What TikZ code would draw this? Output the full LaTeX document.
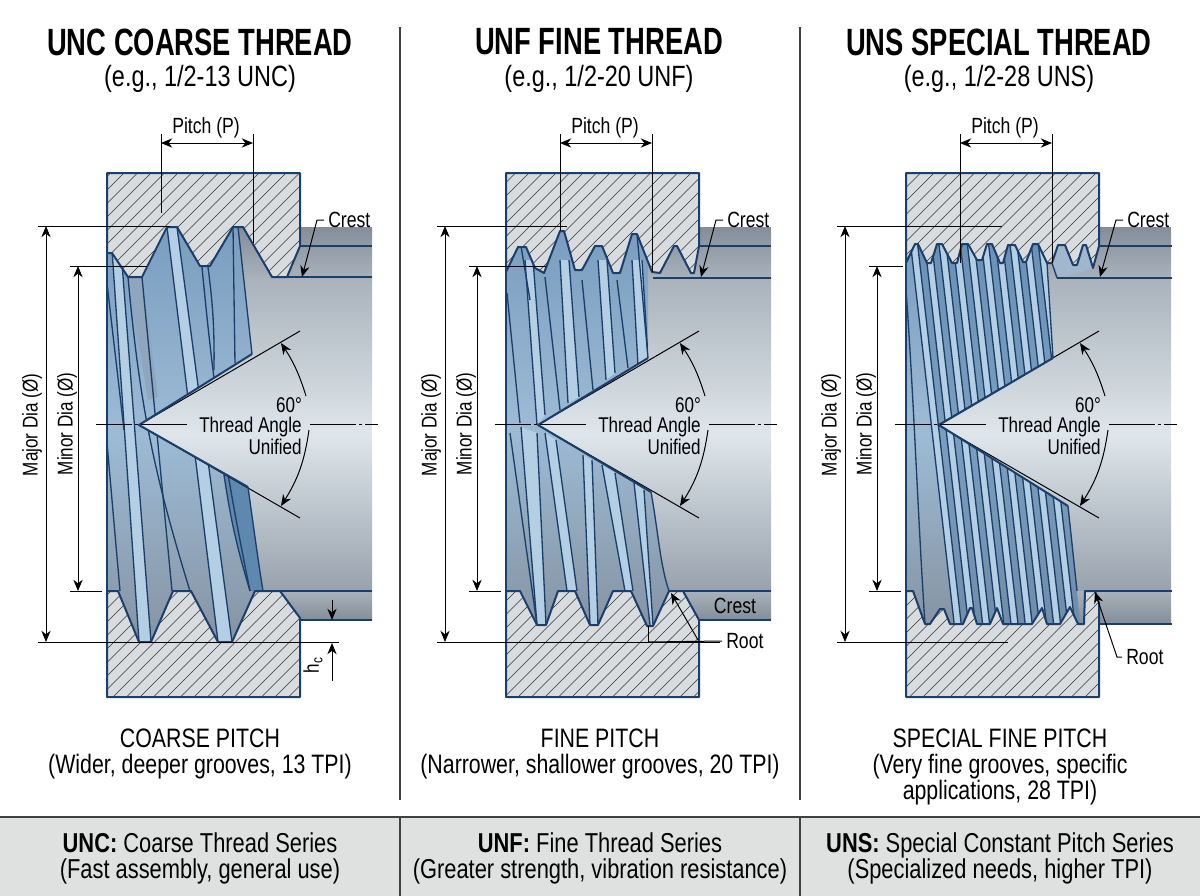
\documentclass[tikz,border=0pt]{standalone}
\usepackage{fontspec}
\setmainfont[FakeStretch=0.8]{Liberation Sans}
\newfontfamily\titlefamily[FakeStretch=0.72]{Liberation Sans}
\usetikzlibrary{arrows.meta,positioning,calc}

\definecolor{navy}{HTML}{1B3F6B}
\definecolor{blockgray}{HTML}{D9DCDE}
\definecolor{lightblue}{HTML}{B4CEE4}
\definecolor{darkblue}{HTML}{5F88AE}
\definecolor{midband}{HTML}{8FA6BC}
\definecolor{footgray}{HTML}{DFE1E1}
\definecolor{threadtop}{HTML}{7A9DBF}
\definecolor{threadmid}{HTML}{9DBBD5}
\definecolor{threadbot}{HTML}{8694A3}
\definecolor{shafttop}{HTML}{A9B1BB}
\definecolor{shaftmid}{HTML}{DEE6EB}
\definecolor{shaftbot}{HTML}{98A2AD}
\definecolor{walldark}{HTML}{838E9A}
\definecolor{walllight}{HTML}{A9B2BB}

% thread outlines in pixels of the sheet
\newcommand{\upperA}{(300,246)--(300,173)--(107,173)--(107,253)--(112,253)--(128,277)--(142,277)--(167,227)--(177,227)--(200,266)--(210,266)--(233,227)--(243,227)--(272,277)--(287,277)--cycle}
\newcommand{\lowerA}{(107,591)--(118,591)--(139,642)--(151,642)--(173,591)--(191,591)--(218,642)--(232,642)--(255,591)--(280,591)--(300,618)--(300,697)--(107,697)--cycle}
\newcommand{\threadA}{(107,253)--(112,253)--(128,277)--(142,277)--(167,227)--(177,227)--(200,266)--(210,266)--(233,227)--(238,227)--(252,354)--(139,425)--(248,487) .. controls (254,530) and (258,560) .. (263,591)--(255,591)--(232,642)--(218,642)--(191,591)--(173,591)--(151,642)--(139,642)--(118,591)--(107,591)--cycle}

\newcommand{\upperB}{(699,246)--(699,173)--(506,173)--(506,272)--(518,247)--(526,247)--(535,268)--(544,273)--(560,231)--(564,231)--(575,270)--(582,270)--(595,246)--(602,246)--(613,273)--(620,273)--(632,234)--(637,234)--(652,272)--(660,273)--(674,246)--(677,246)--(691,273)--(694,273)--cycle}
\newcommand{\lowerB}{(506,591)--(520,591)--(537,625)--(546,625)--(558,591)--(575,591)--(590,625)--(598,625)--(613,591)--(631,591)--(647,626)--(653,626)--(669,591)--(683,591)--(699,620)--(699,697)--(506,697)--cycle}
\newcommand{\threadB}{(506,272)--(518,247)--(526,247)--(535,268)--(544,273)--(560,231)--(564,231)--(575,270)--(582,270)--(595,246)--(602,246)--(613,273)--(620,273)--(632,234)--(637,234)--(648,266)--(648,358)--(538,425)--(651,492) .. controls (658,530) and (660,565) .. (669,591)--(653,626)--(647,626)--(631,591)--(613,591)--(598,625)--(590,625)--(575,591)--(558,591)--(546,625)--(537,625)--(520,591)--(506,591)--cycle}

\newcommand{\upperC}{(1099,246)--(1099,173)--(906,173)--(906,263)--(915,244)--(918,244)--(927,263)--(931,263)--(937,244)--(942,244)--(952,263)--(957,263)--(962,244)--(968,244)--(977,260)--(982,260)--(987,244)--(992,244)--(1000,263)--(1003,263)--(1008,245)--(1015,245)--(1023,262)--(1026,262)--(1033,244)--(1038,244)--(1047,263)--(1052,263)--(1058,245)--(1065,245)--(1073,265)--(1077,265)--(1083,245)--(1086,245)--(1093,268)--cycle}
\newcommand{\lowerC}{(906,591)--(913,591)--(925,624)--(930,624)--(940,609)--(944,609)--(950,624)--(963,624)--(970,608)--(972,608)--(977,624)--(990,624)--(997,608)--(1003,624)--(1032,624)--(1042,608)--(1047,624)--(1060,624)--(1070,607)--(1078,624)--(1084,624)--(1085,591)--(1095,591)--(1099,603)--(1099,697)--(906,697)--cycle}
\newcommand{\threadC}{(906,263)--(915,244)--(918,244)--(927,263)--(931,263)--(937,244)--(942,244)--(952,263)--(957,263)--(962,244)--(968,244)--(977,260)--(982,260)--(987,244)--(992,244)--(1000,263)--(1003,263)--(1008,245)--(1015,245)--(1023,262)--(1026,262)--(1033,244)--(1038,244)--(1047,263)--(1050,317)--(1053,358)--(939,425)--(1068,506)--(1077,591)--(1080,624)--(1078,624)--(1070,607)--(1060,624)--(1047,624)--(1042,608)--(1032,624)--(1003,624)--(997,608)--(990,624)--(977,624)--(972,608)--(970,608)--(963,624)--(950,624)--(944,609)--(940,609)--(930,624)--(925,624)--(913,591)--(906,591)--cycle}

% gray block with its hatching
\newcommand{\hatchblock}[1]{%
  \fill[blockfill] #1;
  \begin{scope}
    \clip #1;
    \foreach \c in {270,283.5,...,1900} \draw[hatchline] (\c-100,100) -- (\c-800,800);
  \end{scope}
  \draw[outline] #1;
}

\begin{document}
\begin{tikzpicture}[
    x=0.75pt, y=-0.75pt,
    outline/.style={draw=navy, line width=1.5pt, line join=round},
    blockfill/.style={fill=blockgray},
    hatchline/.style={draw=black!80, line width=0.5pt},
    threadfill/.style={top color=threadtop, bottom color=threadbot, middle color=threadmid},
    bandfill/.style={fill=lightblue},
    deepfill/.style={fill=darkblue},
    helix/.style={draw=navy, line width=1pt},
    dimline/.style={draw=black, line width=0.75pt},
    dimarrow/.style={draw=black, line width=0.75pt, >={Stealth[length=8.5pt,width=7pt]}},
    centerline/.style={draw=black, line width=0.6pt, dash pattern=on 34.5pt off 2.5pt on 2pt off 2.5pt},
    titletext/.style={font=\titlefamily\fontsize{28.5}{30}\selectfont\bfseries, inner sep=0pt},
    subtext/.style={font=\fontsize{22}{24}\selectfont, inner sep=0pt},
    dimtext/.style={font=\fontsize{16}{18}\selectfont, inner sep=0pt},
    leadtext/.style={font=\fontsize{16.5}{18}\selectfont, inner sep=3pt},
    captiontext/.style={font=\fontsize{20}{19.5}\selectfont, align=center, inner sep=0pt},
    foottext/.style={font=\fontsize{20.5}{19.5}\selectfont, align=center, inner sep=0pt}
]
\useasboundingbox (0,0) rectangle (1200,896);

% Footer band and dividers
\fill[footgray] (0,817) rectangle (1200,896);
\coordinate (footL) at (0,817);
\coordinate (footR) at (1200,817);
\draw[draw=black!75, line width=1.1pt] (footL) -- (footR);
\foreach \xd/\tag in {400/one, 800/two} {
  \coordinate (divT\tag) at (\xd,27);
  \coordinate (divB\tag) at (\xd,800);
  \coordinate (footT\tag) at (\xd,817);
  \coordinate (footB\tag) at (\xd,896);
  \draw[draw=black!75, line width=1pt] (divT\tag) -- (divB\tag);
  \draw[draw=black!75, line width=1pt] (footT\tag) -- (footB\tag);
}

% Shaft of each panel
\foreach \off in {0,399,799} {
  \begin{scope}[shift={(\off,0)}]
    \shade[top color=shafttop, bottom color=shaftbot, middle color=shaftmid] (107,277) rectangle (372,591);
    \shade[top color=walldark, bottom color=walllight] (225,227) rectangle (372,278);
    \shade[top color=walllight, bottom color=walldark] (250,591) rectangle (372,\ifnum\off=799 624\else 620\fi);
  \end{scope}
}

% Thread, coarse
\shade[threadfill] \threadA;
\begin{scope}
  \clip \threadA;
  \fill[midband] (128,277) -- (142,277) -- (158,397) -- (148,400) -- cycle;
  \foreach \xa/\ya/\xb/\yb/\xc/\yc/\xd/\yd in {112/250/121/250/151/642/139/642, 167/227/177/227/232/642/218/642} {
    \fill[bandfill] (\xa,\ya) -- (\xb,\yb) -- (\xc,\yc) -- (\xd,\yd) -- cycle;
    \draw[helix] (\xa,\ya) -- (\xd,\yd) (\xb,\yb) -- (\xc,\yc);
  }
  \fill[deepfill] (224,475) .. controls (232,520) and (240,560) .. (250,591) -- (263,591) .. controls (258,560) and (254,530) .. (248,487) -- cycle;
  \foreach \xa/\ya/\xb/\yb/\b in {128/277/190/591/-6, 142/277/172/591/0, 107/443/120/591/0, 102/240/124/430/0, 202/267/250/591/-3, 208/267/214/370/4, 233/227/235/363/0, 224/475/250/591/-4} {
    \draw[helix] (\xa,\ya) to[bend left=\b] (\xb,\yb);
  }
\end{scope}

% Thread, fine
\shade[threadfill] \threadB;
\begin{scope}
  \clip \threadB;
  \foreach \xa/\ya/\xb/\yb/\xc/\yc/\xd/\yd in {525/260/533/260/545/415/537/425, 560/260/569/260/579/397/568/403, 598/260/607/260/615/373/606/380, 632/260/642/260/648/358/638/365, 521/427/537/433/546/625/537/625, 583/455/592/460/598/625/590/625, 634/483/644/490/653/625/650/625, 602/465/615/473/633/591/625/591, 545/433/556/440/577/591/567/591} {
    \fill[bandfill] (\xa,\ya) -- (\xb,\yb) -- (\xc,\yc) -- (\xd,\yd) -- cycle;
    \draw[helix] (\xa,\ya) -- (\xd,\yd) (\xb,\yb) -- (\xc,\yc);
  }
  \foreach \xa/\ya/\xb/\yb/\b in {507/293/520/423/0, 510/433/537/625/0, 545/277/560/410/0, 582/280/593/390/0, 617/280/628/368/0, 520/240/530/300/0} {
    \draw[helix] (\xa,\ya) to[bend left=\b] (\xb,\yb);
  }
\end{scope}

% Thread, special
\shade[threadfill] \threadC;
\begin{scope}
  \clip \threadC;
  \foreach \k in {0,...,9} {
    \coordinate (helixa\k) at ({912+14.2*\k-1.9},240);
    \coordinate (helixb\k) at ({912+14.2*\k+7-1.9},240);
    \coordinate (helixe\k) at ({912+14.2*\k+14.2-1.9},240);
    \coordinate (helixc\k) at ({912+14.2*\k+7+42.9},630);
    \coordinate (helixd\k) at ({912+14.2*\k+42.9},630);
    \coordinate (helixf\k) at ({912+14.2*\k+14.2+42.9},630);
    \fill[deepfill, opacity=0.55] (helixb\k) -- (helixe\k) -- (helixf\k) -- (helixc\k) -- cycle;
    \fill[bandfill] (helixa\k) -- (helixb\k) -- (helixc\k) -- (helixd\k) -- cycle;
    \draw[helix] (helixa\k) -- (helixd\k) (helixb\k) -- (helixc\k);
  }
  \draw[helix] (906,290) .. controls (914,400) and (918,520) .. (925,624);
\end{scope}
\fill[fill=darkblue!60] (1052,263)--(1058,245)--(1065,245)--(1073,265)--(1077,265)--(1083,245)--(1086,245)--(1093,268)--(1082,272)--(1060,277)--cycle;
\coordinate (toothC) at (1052,263);
\coordinate (wallC) at (1057,278);
\draw[helix] (toothC) -- (wallC);

% Thread edges, hatching and cone
\foreach \ax/\up/\low/\thr in {107/\upperA/\lowerA/\threadA, 506/\upperB/\lowerB/\threadB, 906/\upperC/\lowerC/\threadC} {
  \coordinate (edgeT\ax) at (\ax,173);
  \coordinate (edgeB\ax) at (\ax,697);
  \draw[outline] (edgeT\ax) -- (edgeB\ax);
  \coordinate (apex\ax) at ($(\ax,425)+(32,0)$);
  \coordinate (coneT\ax) at ($(\ax,331)+(193,0)$);
  \coordinate (coneB\ax) at ($(\ax,518)+(193,0)$);
  \hatchblock{\up}
  \hatchblock{\low}
  \draw[dimline] (coneT\ax) -- (apex\ax) -- (coneB\ax);
}
\draw[outline] (252,354) -- (139,425) -- (248,487);
\draw[helix] (238,227) -- (252,354) (248,487) .. controls (254,530) and (258,560) .. (263,591);
\draw[outline] (648,358) -- (538,425) -- (651,492);
\draw[helix] (637,234) -- (648,358) (651,492) .. controls (658,530) and (660,565) .. (669,591);
\draw[outline] (1053,358) -- (939,425) -- (1068,506);
\draw[helix] (1047,263) -- (1053,358) (1068,506) -- (1077,591);

% Shaft walls
\foreach \xa/\xb/\ya in {300/372/246, 272/372/277, 280/372/591, 300/372/620, 699/771/246, 653/771/278, 683/771/591, 699/771/620, 1099/1172/246, 1057/1172/278, 1095/1172/591, 1099/1172/624} {
  \coordinate (wallL\xa\ya) at (\xa,\ya);
  \coordinate (wallR\xa\ya) at (\xb,\ya);
  \draw[outline] (wallL\xa\ya) -- (wallR\xa\ya);
}

% Dimensions common to the three panels
\foreach \off/\tag/\major/\minor/\low/\pa/\pb/\crestx/\crestk in {
    0/unc/170/147/339/213/243/317/302,
    399/unf/168/147/321/231/272/317/302,
    799/uns/203/104/209/263/263/317/301} {
  \begin{scope}[shift={(\off,0)}]
    % major and minor diameters
    \coordinate (majA\tag) at (38,226);
    \coordinate (majB\tag) at (\major,226);
    \coordinate (majC\tag) at (38,642);
    \coordinate (majD\tag) at (\low,642);
    \coordinate (majT\tag) at (46,226);
    \coordinate (majE\tag) at (46,642);
    \draw[dimline] (majA\tag) -- (majB\tag);
    \draw[dimline] (majC\tag) -- (majD\tag);
    \draw[dimarrow,<->] (majT\tag) -- (majE\tag);
    \coordinate (minA\tag) at (70,266);
    \coordinate (minB\tag) at (\minor,266);
    \coordinate (minC\tag) at (70,591);
    \coordinate (minD\tag) at (102,591);
    \coordinate (minT\tag) at (78,266);
    \coordinate (minE\tag) at (78,591);
    \draw[dimline] (minA\tag) -- (minB\tag);
    \draw[dimline] (minC\tag) -- (minD\tag);
    \draw[dimarrow,<->] (minT\tag) -- (minE\tag);
    \node[dimtext, rotate=90] (majlab\tag) at (32,425) {Major Dia (Ø)};
    \node[dimtext, rotate=90] (minlab\tag) at (67,424) {Minor Dia (Ø)};
    % pitch
    \coordinate (pitA\tag) at (161,134);
    \coordinate (pitB\tag) at (161,\pa);
    \coordinate (pitC\tag) at (253,134);
    \coordinate (pitD\tag) at (253,\pb);
    \coordinate (pitL\tag) at (161,143);
    \coordinate (pitR\tag) at (253,143);
    \draw[dimline] (pitA\tag) -- (pitB\tag);
    \draw[dimline] (pitC\tag) -- (pitD\tag);
    \draw[dimarrow,<->] (pitL\tag) -- (pitR\tag);
    \node[leadtext] (pitlab\tag) at (206,128) {Pitch (P)};
    % crest leader
    \node[leadtext, anchor=west] (crest\tag) at (324,220) {Crest};
    \coordinate (bend\tag) at (\crestx,220);
    \coordinate (tip\tag) at (\crestk,277);
    \draw[dimarrow,->] (crest\tag.west) -- (bend\tag) -- (tip\tag);
    % angle and centre line
    \coordinate (cenA\tag) at (96,424);
    \coordinate (cenB\tag) at (187,424);
    \coordinate (cenC\tag) at (310,424);
    \coordinate (cenD\tag) at (378,424);
    \draw[centerline] (cenB\tag) -- (cenA\tag);
    \draw[centerline] (cenC\tag) -- (cenD\tag);
    \node[dimtext] (ang\tag) at (289,405) {60°};
    \node[dimtext, anchor=east] (angb\tag) at (302,427) {Thread Angle};
    \node[dimtext, anchor=east] (angc\tag) at (302,447) {Unified};
    \coordinate (arcA\tag) at (281,343);
    \coordinate (arcB\tag) at (306,396);
    \coordinate (arcC\tag) at (309,430);
    \coordinate (arcD\tag) at (281,506);
    \draw[dimarrow,<-] (arcA\tag) to[bend left=8] (arcB\tag);
    \draw[dimarrow,->] (arcC\tag) to[bend left=12] (arcD\tag);
  \end{scope}
}

% Clearance on the coarse panel
\coordinate (hcA) at (332,600);
\coordinate (hcB) at (332,620);
\coordinate (hcC) at (332,681);
\coordinate (hcD) at (332,643);
\draw[dimarrow,->] (hcA) -- (hcB);
\draw[dimarrow,->] (hcC) -- (hcD);
\node[dimtext, rotate=90] (hclab) at (313,665) {h\textsubscript{c}};

% Crest and root on the fine panel
\node[leadtext] (crestlow) at (735,606) {Crest};
\node[leadtext, anchor=west] (rootB) at (722,641) {Root};
\coordinate (rootline) at (648,642);
\coordinate (rootdrop) at (648,626);
\coordinate (roottail) at (698,640);
\coordinate (roottip) at (671,593);
\draw[dimline] (rootB.west) -- (rootline);
\draw[dimline] (rootline) -- (rootdrop);
\draw[dimarrow,->] (roottail) -- (roottip);

% Root on the special panel
\node[leadtext, anchor=west] (rootC) at (1122,657) {Root};
\coordinate (rootCa) at (1117,657);
\coordinate (rootCb) at (1095,592);
\draw[dimarrow,->] (rootC.west) -- (rootCa) -- (rootCb);

% Titles
\node[titletext] (titleA) at (200,42) {UNC COARSE THREAD};
\node[subtext] (subA) at (200,79) {(e.g., 1/2-13 UNC)};
\node[titletext] (titleB) at (599,42) {UNF FINE THREAD};
\node[subtext] (subB) at (599,79) {(e.g., 1/2-20 UNF)};
\node[titletext] (titleC) at (999,42) {UNS SPECIAL THREAD};
\node[subtext] (subC) at (999,79) {(e.g., 1/2-28 UNS)};

% Captions
\node[captiontext, anchor=north] (capA) at (200,729) {COARSE PITCH\\(Wider, deeper grooves, 13 TPI)};
\node[captiontext, anchor=north] (capB) at (600,729) {FINE PITCH\\(Narrower, shallower grooves, 20 TPI)};
\node[captiontext, anchor=north] (capC) at (1000,729) {SPECIAL FINE PITCH\\(Very fine grooves, specific\\applications, 28 TPI)};

% Footer text
\node[foottext] (footA) at (200,858) {\textbf{UNC:} Coarse Thread Series\\(Fast assembly, general use)};
\node[foottext] (footB) at (600,858) {\textbf{UNF:} Fine Thread Series\\(Greater strength, vibration resistance)};
\node[foottext] (footC) at (1000,858) {\textbf{UNS:} Special Constant Pitch Series\\(Specialized needs, higher TPI)};

\end{tikzpicture}
\end{document}
